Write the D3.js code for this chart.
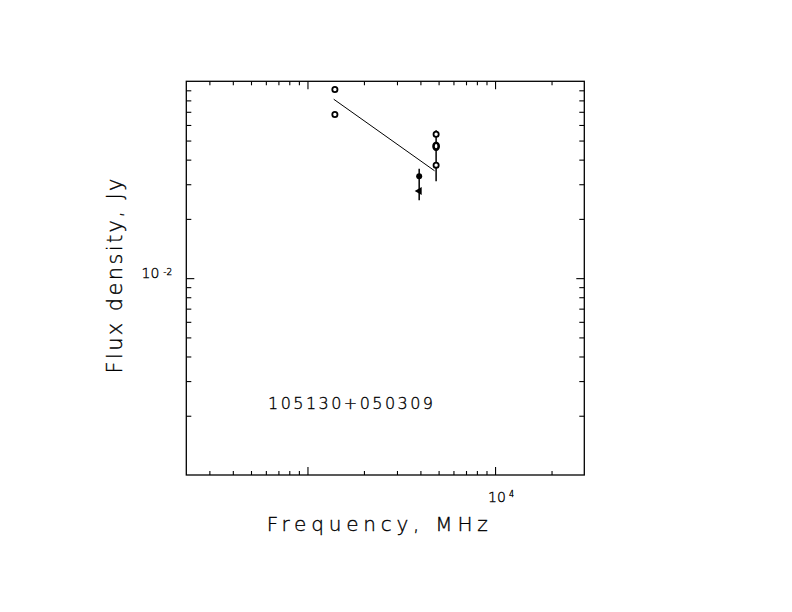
<!DOCTYPE html>
<html>
<head>
<meta charset="utf-8">
<script src="https://cdn.jsdelivr.net/npm/d3@7"></script>
<style>
  html, body { margin: 0; padding: 0; background: #fff; }
  svg { display: block; }
  text { font-family: "DejaVu Sans", sans-serif; font-weight: 200; fill: #000; stroke: #000; stroke-width: 0.35; }
</style>
</head>
<body>
<div id="chart"></div>
<script>
// ---- data ----
const sourceName = "105130+050309";
const xTitle = "Frequency, MHz";
const yTitle = "Flux density, Jy";

const pointFreq = [1400, 1400, 4850, 4850, 4850, 3940, 3940];
const pointFlux = [0.0908, 0.0678, 0.0538, 0.0468, 0.0375, 0.0329, 0.0277];
const pointKind = ["open", "open", "open", "bold", "open", "dot", "tri"];

const errFreq = [4850, 3940];
const errLo = [0.0311, 0.0249];
const errHi = [0.0564, 0.0360];

const fitFreq = [1380, 4760];
const fitFlux = [0.0811, 0.0351];

const xMajor = [1000, 10000];
const xMinor = [300, 400, 500, 600, 700, 800, 900, 2000, 3000, 4000, 5000, 6000, 7000, 8000, 9000, 20000];
const yMajor = [0.01];
const yMinor = [0.002, 0.003, 0.004, 0.005, 0.006, 0.007, 0.008, 0.009,
                0.02, 0.03, 0.04, 0.05, 0.06, 0.07, 0.08, 0.09];
const xLabels = [{v: 10000, base: "10", exp: "4"}];
const yLabels = [{v: 0.01, base: "10", exp: "-2"}];

// ---- layout ----
const W = 792, H = 612;
const L = 186.3, R = 584.3, T = 81.3, B = 475;

const svg = d3.select("#chart").append("svg").attr("width", W).attr("height", H);

const x = d3.scaleLog().domain([226, 29900]).range([L, R]);
const y = d3.scaleLog().domain([0.001, 0.1]).range([B, T]);

function axisG(axis, tx, ty) {
  const g = svg.append("g").attr("transform", `translate(${tx},${ty})`).call(axis);
  g.select(".domain").remove();
  g.selectAll(".tick line").attr("stroke", "#000").attr("stroke-width", 1.1);
  g.selectAll(".tick text").remove();
  return g;
}
// bottom / top
axisG(d3.axisBottom(x).tickValues(xMinor).tickSize(-4).tickFormat(""), 0, B);
axisG(d3.axisBottom(x).tickValues(xMajor).tickSize(-8).tickFormat(""), 0, B);
axisG(d3.axisTop(x).tickValues(xMinor).tickSize(-4).tickFormat(""), 0, T);
axisG(d3.axisTop(x).tickValues(xMajor).tickSize(-8).tickFormat(""), 0, T);
// left / right
axisG(d3.axisLeft(y).tickValues(yMinor).tickSize(-5).tickFormat(""), L, 0);
axisG(d3.axisLeft(y).tickValues(yMajor).tickSize(-8).tickFormat(""), L, 0);
axisG(d3.axisRight(y).tickValues(yMinor).tickSize(-5).tickFormat(""), R, 0);
axisG(d3.axisRight(y).tickValues(yMajor).tickSize(-8).tickFormat(""), R, 0);

// frame
svg.append("rect").attr("x", L).attr("y", T).attr("width", R - L).attr("height", B - T)
  .attr("fill", "none").attr("stroke", "#000").attr("stroke-width", 1.3);

// tick labels
xLabels.forEach(d => {
  const t = svg.append("text").attr("x", x(d.v) - 7).attr("y", 502).attr("font-size", 14)
    .attr("text-anchor", "start");
  t.append("tspan").text(d.base);
  t.append("tspan").attr("font-size", 8).attr("dx", 3).attr("dy", -5).text(d.exp);
});
yLabels.forEach(d => {
  const t = svg.append("text").attr("x", 141.5).attr("y", y(d.v)).attr("font-size", 14)
    .attr("text-anchor", "start");
  t.append("tspan").text(d.base);
  t.append("tspan").attr("font-size", 9).attr("dx", 4).attr("dy", -3).text(d.exp);
});

// axis titles
svg.append("text").attr("x", 266.7).attr("y", 531).attr("font-size", 20)
  .attr("textLength", 221).attr("lengthAdjust", "spacing").text(xTitle);
svg.append("text").attr("transform", "translate(121.5,373.5) rotate(-90)")
  .attr("font-size", 21).attr("textLength", 195).attr("lengthAdjust", "spacing").text(yTitle);

// source name
svg.append("text").attr("x", 268).attr("y", 408.5).attr("font-size", 16)
  .attr("textLength", 165).attr("lengthAdjust", "spacing").text(sourceName);

// fit line
const fit = fitFreq.map((f, i) => [f, fitFlux[i]]);
svg.append("path").datum(fit)
  .attr("d", d3.line().x(d => x(d[0])).y(d => y(d[1])))
  .attr("fill", "none").attr("stroke", "#000").attr("stroke-width", 1);

// error bars
errFreq.forEach((f, i) => {
  svg.append("line").attr("x1", x(f)).attr("x2", x(f))
    .attr("y1", y(errLo[i])).attr("y2", y(errHi[i]))
    .attr("stroke", "#000").attr("stroke-width", 1.5);
});

// points
pointFreq.forEach((f, i) => {
  const cx = x(f), cy = y(pointFlux[i]), k = pointKind[i];
  if (k === "open") {
    svg.append("circle").attr("cx", cx).attr("cy", cy).attr("r", 2.6)
      .attr("fill", "#fff").attr("stroke", "#000").attr("stroke-width", 1.8);
  } else if (k === "bold") {
    svg.append("ellipse").attr("cx", cx).attr("cy", cy).attr("rx", 2.6).attr("ry", 3.4)
      .attr("fill", "#fff").attr("stroke", "#000").attr("stroke-width", 2.6);
  } else if (k === "dot") {
    svg.append("circle").attr("cx", cx).attr("cy", cy).attr("r", 3).attr("fill", "#000");
  } else if (k === "tri") {
    svg.append("path")
      .attr("d", `M${cx - 4.5},${cy} L${cx + 2.5},${cy - 4} L${cx + 2.5},${cy + 4} Z`)
      .attr("fill", "#000");
  }
});
</script>
</body>
</html>
